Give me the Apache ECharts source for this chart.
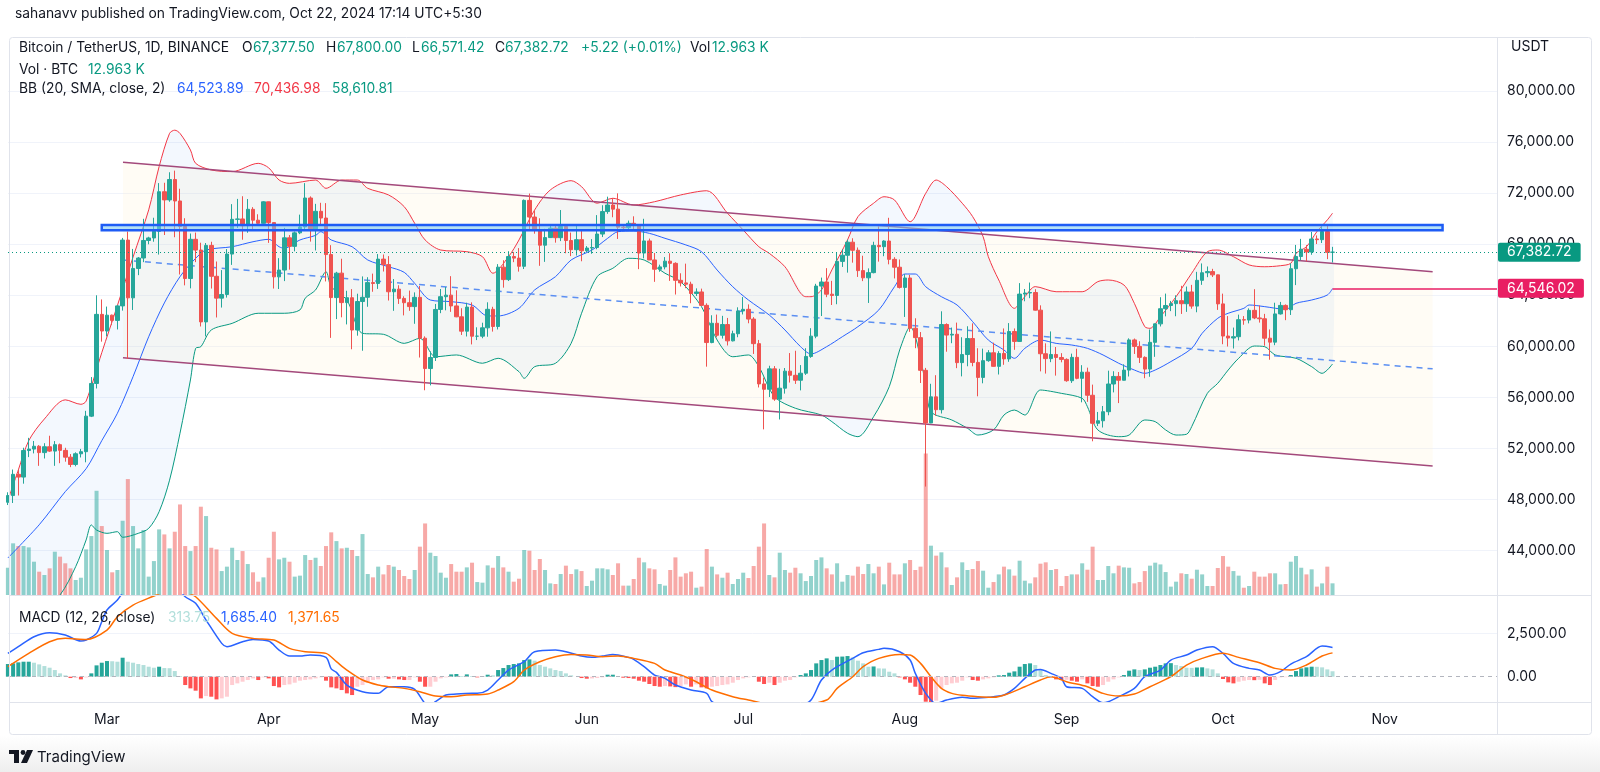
<!DOCTYPE html>
<html><head><meta charset="utf-8">
<script src="https://cdn.jsdelivr.net/npm/echarts@6.0.0/dist/echarts.min.js"></script>
<style>html,body{margin:0;padding:0;background:#fff}#chart{width:1600px;height:772px}</style>
</head><body><div id="chart"></div>
<script>
// ---------- data (day index: 0 = 2024-02-12, -1 = 2024-02-11) ----------
const firstDay = -1;
const monthTicks = [18, 49, 79, 110, 140, 171, 202, 232, 263];
const monthNames = ['Mar', 'Apr', 'May', 'Jun', 'Jul', 'Aug', 'Sep', 'Oct', 'Nov'];
const priceTicks = [44000, 48000, 52000, 56000, 60000, 64000, 68000, 72000, 76000, 80000];
const macdTicks = [0, 2500];
const macdGridTicks = [2500];

// [open, high, low, close]
const candles = [
[47769,48550,47550,48293],[48293,50334,47710,49958],[49958,50368,48300,49743],[49743,52043,49225,51826],[51826,52820,51310,51939],[51939,52574,51600,52160],[52160,52250,50625,51663],
[51663,52400,51200,52122],[52122,52985,51715,51780],[51780,52567,50625,52284],[52284,52372,50831,51839],[51839,52040,50950,51304],[51304,51548,50521,50731],[50731,51684,50585,51571],
[51571,51950,51280,51733],[51733,54938,50901,54522],[54522,57588,54450,57085],[57085,64000,56690,62504],[62504,63676,60364,61198],[61198,63115,60777,62440],[62440,62488,61660,62029],
[62029,63230,61321,63168],[63168,68500,62800,68330],[68330,69000,59005,63801],[63801,67637,62849,66106],[66106,67000,65580,66925],[66925,69999,66600,68300],[68300,68590,68000,68498],
[68498,70083,68200,69019],[69019,72800,67194,72123],[72123,72825,68728,71481],[71481,73650,71334,73083],[73083,73777,68555,71397],[71397,72357,65630,69403],[69403,70044,64780,65315],
[65315,68845,64545,68391],[68391,68918,66601,67548],[67548,68124,61555,61913],[61913,68100,60775,67913],[67913,68199,64529,65491],[65491,66650,62260,63778],[63778,65976,63038,64062],
[64062,67624,63820,67234],[67234,71150,66385,69958],[69958,71561,69280,69987],[69987,71769,68360,69455],[69455,71552,68904,70744],[70744,70913,69076,69892],[69892,70355,69601,69645],
[69645,71377,69624,71333],[71333,71342,68111,69702],[69702,69708,64530,65446],[65446,66914,64494,65980],[65980,69291,65113,68508],[68508,68725,66011,67838],[67838,69000,67447,68896],
[68896,70327,68796,69362],[69362,72797,69041,71631],[71631,71758,68210,69139],[69139,71172,67518,70587],[70587,71256,69571,70060],[70060,71228,65086,67195],[67195,67931,60660,63821],
[63821,65840,62134,65738],[65738,66867,62274,63426],[63426,64355,61716,63811],[63811,64486,59768,61276],[61276,64125,60833,63512],[63512,65481,59651,63843],[63843,65419,63100,64994],
[64994,65700,64277,64927],[64927,67233,64500,66837],[66837,67199,65864,66407],[66407,67075,63589,64277],[64277,65275,62783,64482],[64482,64789,63322,63756],[63756,63923,62424,63419],
[63419,64370,62781,63113],[63113,64228,61765,63841],[63841,64734,59120,60637],[60637,60780,56552,58254],[58254,59602,56937,59123],[59123,63320,58848,62889],[62889,64494,62599,63892],
[63892,64646,62822,64012],[64012,65500,62700,63166],[63166,64390,62281,62313],[62313,62985,60888,61187],[61187,63420,60769,63075],[63075,63446,60148,60792],[60792,61490,60488,60793],
[60793,61850,60632,61448],[61448,63450,60750,62901],[62901,63099,61152,61552],[61552,66444,61319,66207],[66207,66750,64600,65231],[65231,67459,65119,67039],[67039,67400,66600,66916],
[66916,67700,65857,66275],[66275,71515,66060,71446],[71446,71979,69162,70137],[70137,70632,68833,69122],[69122,70041,66312,67929],[67929,69212,66622,68526],[68526,69563,68500,69266],
[69266,69562,68128,68518],[68518,70687,68251,69394],[69394,69560,67300,68296],[68296,68920,67075,67579],[67579,69500,67118,68364],[68364,69042,66670,67491],[67491,67860,67387,67706],
[67706,68409,67257,67751],[67751,70288,67612,68804],[68804,71063,68567,70567],[70567,71735,70390,71082],[71082,71625,70119,70757],[70757,71997,68420,69342],[69342,69583,69182,69305],
[69305,69858,69126,69648],[69648,70195,69160,69540],[69540,69590,66051,67314],[67314,70000,66900,68263],[68263,68449,66764,66773],[66773,67315,65056,66043],[66043,66403,65848,66228],
[66228,66998,66034,66676],[66676,67299,65130,66505],[66505,66587,64060,65175],[65175,65727,64693,64974],[64974,66482,64560,64869],[64869,65066,63379,64143],[64143,64546,63943,64262],
[64262,64523,63178,63210],[63210,63369,58402,60293],[60293,62435,60240,61806],[61806,62487,60712,60864],[60864,62389,60606,61706],[61706,62225,60063,60427],[60427,61224,60383,60986],
[60986,63058,60712,62772],[62772,63861,62497,62900],[62900,63288,61806,62135],[62135,62285,59400,60208],[60208,60498,56771,57050],[57050,57546,53485,56628],[56628,58475,56018,58230],
[58230,58449,55724,55857],[55857,58236,54260,56714],[56714,58296,56289,58050],[58050,59470,57157,57725],[57725,59650,57050,57339],[57339,58526,56542,57889],[57889,59850,57756,59204],
[59204,61420,59096,60797],[60797,64900,60632,64724],[64724,65388,62373,65043],[65043,66128,63854,64087],[64087,65133,63238,63987],[63987,67386,63300,66660],[66660,67598,66222,67139],
[67139,68366,65777,68165],[68165,68474,66559,67532],[67532,67750,65441,65936],[65936,67102,65111,65372],[65372,66112,63400,65777],[65777,68200,65722,67912],[67912,69399,66640,67813],
[67813,68318,67066,68255],[68255,70079,66428,66819],[66819,66987,65323,66201],[66201,66810,64532,64619],[64619,65659,62302,65357],[65357,65596,61130,61415],[61415,62198,59850,60680],
[60680,61117,57122,58116],[58116,58305,49000,53991],[53991,57059,53973,56034],[56034,57733,54558,55027],[55027,62745,54730,61710],[61710,61800,59575,60880],[60880,61470,60242,60945],
[60945,61858,58286,58719],[58719,60711,57642,59354],[59354,61572,58433,60609],[60609,61800,58433,58737],[58737,59849,56078,57560],[57560,59817,57098,58874],[58874,59700,58785,59491],
[59491,60284,58408,58427],[58427,59617,57787,59438],[59438,61400,58548,59013],[59013,61820,58783,61157],[61157,61400,59724,60381],[60381,64955,60345,64094],[64094,64494,63531,64178],
[64178,65000,63773,64220],[64220,64481,62800,62834],[62834,63212,58034,59416],[59416,60234,57860,59034],[59034,61166,58755,59359],[59359,59944,57701,59123],[59123,59462,58745,58973],
[58973,59054,57218,57301],[57301,59425,57128,59132],[59132,59809,57415,57487],[57487,58520,55606,57970],[57970,58327,55643,56160],[56160,56995,52550,53962],[53962,54850,53745,54160],
[54160,55318,53630,54869],[54869,58088,54591,57042],[57042,58044,56386,57635],[57635,57981,55546,57338],[57338,58588,57324,58132],[58132,60625,57632,60499],[60499,60610,59400,59993],
[59993,60395,58692,59132],[59132,59210,57493,58213],[58213,61320,57610,60309],[60309,61786,59174,61759],[61759,63850,61555,62947],[62947,64133,62350,63201],[63201,63559,62758,63348],
[63348,64000,62357,63578],[63578,64745,62538,63339],[63339,64688,62700,64262],[64262,64817,62947,63152],[63152,65839,62670,65173],[65173,66498,64819,65769],[65769,66260,65422,65858],
[65858,66076,65432,65602],[65602,65618,62856,63327],[63327,64130,60164,60805],[60805,62370,59981,60649],[60649,61469,59828,60752],[60752,62484,60459,62086],[62086,62370,61689,62058],
[62058,62975,61798,62819],[62819,64478,62128,62224],[62224,63200,61860,62160],[62160,62543,60046,60636],[60636,61321,58946,60326],[60326,63417,60087,62540],[62540,63480,62487,63206],
[63206,63285,62050,62870],[62870,66500,62457,66084],[66084,67950,64800,67041],[67041,68424,66750,67612],[67612,67939,66666,67399],[67399,68969,67177,68418],[68418,68694,68020,68362],
[68362,69400,68100,69002],[69002,69500,66835,67367],[67377.5,67800,66571.42,67382.72]
];

// volume, thousands of BTC
const volumes = [30.3,57.4,54.4,54.4,52.9,37.0,25.9,22.2,29.6,48.1,42.6,35.2,29.6,16.7,19.2,50.7,65.5,115.8,76.6,50.0,25.2,27.8,82.5,128.8,76.6,51.8,72.2,20.4,37.7,72.9,67.3,51.8,70.3,100.6,54.4,48.8,54.4,98.1,87.7,52.5,50.7,26.6,31.5,52.5,38.9,48.8,34.4,25.2,14.8,19.6,41.4,70.3,39.6,41.4,37.0,20.4,21.5,44.4,38.9,41.4,32.2,54.4,69.6,59.9,
51.8,52.5,50.0,43.3,67.7,23.3,19.6,31.5,22.9,33.3,31.5,27.8,21.1,17.8,27.8,53.7,79.5,47.0,43.3,24.8,19.2,34.4,25.9,25.9,30.7,35.9,14.4,13.7,32.9,30.3,43.3,30.7,25.9,14.8,18.1,50.0,49.2,27.8,40.0,27.8,12.9,12.2,23.3,32.6,23.3,28.5,26.6,10.0,15.9,29.6,29.6,28.5,22.2,35.2,10.4,10.4,17.8,41.4,36.3,29.6,28.5,12.2,10.4,
27.8,41.8,20.4,24.1,25.9,8.1,9.3,51.1,31.5,22.9,19.2,24.8,12.2,17.8,24.8,18.9,32.2,53.7,79.5,22.2,19.6,47.0,27.8,24.8,30.3,24.1,15.5,21.1,38.9,41.8,29.6,22.9,35.2,14.8,22.2,21.5,31.5,23.3,34.4,24.1,31.5,11.8,35.9,22.9,22.9,35.2,38.9,27.8,31.5,157.3,54.8,43.7,47.4,30.7,11.1,19.6,36.3,27.8,28.9,37.7,27.0,8.1,14.4,
22.9,31.5,28.5,21.5,38.1,15.9,12.9,19.6,34.8,36.3,27.8,28.9,10.0,21.1,22.9,22.9,35.2,28.1,53.7,16.7,16.7,32.2,24.1,32.6,30.7,30.3,12.9,14.4,26.6,32.6,35.9,34.0,25.5,9.3,14.8,24.1,23.3,18.1,28.1,22.9,10.0,10.0,30.0,43.3,31.5,26.6,21.5,8.1,10.0,25.9,20.4,20.4,24.1,24.1,11.8,12.2,37.0,43.3,30.3,22.9,28.5,9.3,12.9,31.5,12.963];

// MACD histogram per day
const macdHist = [730,768,826,864,864,806,710,614,518,384,192,77,-77,-77,-154,-40,192,653,806,902,890,864,1094,864,806,730,672,576,518,576,499,490,326,38,-480,-672,-806,-1248,-1114,-1152,-1306,-1248,-1152,-480,-384,-288,-192,-96,-192,-38,-96,-538,-614,-480,-442,-346,-230,-192,-154,-96,-38,-230,-614,-672,
-768,-960,-1056,-576,-480,-346,-192,-154,-38,-115,-115,-154,-192,-192,-38,-288,-576,-576,-288,-96,-38,134,154,38,134,38,-38,19,115,77,384,499,672,730,768,960,998,922,672,576,480,384,326,192,77,0,-77,-115,-100,-77,-38,115,115,38,-58,-77,-115,-230,-288,-422,-538,-576,-538,
-560,-600,-538,-442,-576,-442,-614,-672,-576,-538,-480,-442,-346,-192,-96,-38,-20,-288,-422,-346,-480,-346,-230,-192,-38,96,192,384,768,960,1056,960,1152,1160,1190,1114,922,768,576,590,480,470,288,192,-38,-154,-346,-576,-1056,-1440,-1498,-1382,-672,-480,-384,-346,-230,-38,-192,-230,-154,-96,-38,
77,96,230,307,576,730,768,672,384,96,-19,-154,-192,-180,-230,-288,-154,-384,-538,-576,-480,-288,-154,-38,96,346,422,384,422,518,576,672,768,780,672,614,518,510,530,540,480,422,192,-134,-326,-384,-288,-230,-192,-200,-180,-384,-480,-192,-38,-30,96,326,480,538,576,570,538,422,313.75];

// Bollinger Bands (20, SMA, close, 2): [day, price]
const bbUpper = [[-1,47900],[1,50300],[3,52600],[6,54300],[10,55800],[13,55450],[14,55700],[17,59500],[20,63200],[23,67000],[26,70700],[28,74100],[30,76700],[31,76950],[32,76700],[34,75400],[35,74350],[38,73830],[42,73700],[47,74350],[49,74000],[51,73040],[53,72780],[58,73040],[60,72390],[63,73040],[66,73040],[68,72390],[72,71870],[75,70950],[77,69650],[79,68340],[82,67550],[87,67420],[90,67030],[92,65730],[95,67030],[97,68340],[100,70690],[103,72260],[107,72990],[109,72520],[112,71220],[115,71610],[119,71080],[123,71340],[128,71870],[133,72200],[137,70430],[140,69120],[143,67810],[145,67290],[148,66240],[152,63890],[153,63890],[155,64420],[157,65990],[160,68340],[162,70170],[165,71220],[167,71730],[169,71480],[172,69770],[175,72000],[177,73040],[179,72520],[182,71220],[184,70170],[186,68600],[187,67030],[189,65200],[192,62980],[194,63890],[196,64680],[200,64280],[205,64280],[208,65070],[210,65200],[213,64810],[215,63370],[217,61540],[218,61410],[220,62320],[223,63890],[226,65730],[229,67420],[231,67550],[234,67030],[237,66380],[240,66240],[243,66320],[245,66510],[246,67290],[248,67810],[250,68990],[252,69910],[253,70436.98]];
const bbBasis = [[-1,43400],[5,46000],[10,48600],[14,50400],[17,52600],[20,54750],[23,57620],[26,60750],[29,63400],[32,65460],[35,66900],[37,67550],[42,67810],[46,68200],[49,68390],[51,67810],[52,67690],[55,68340],[58,68700],[59,68990],[61,68340],[65,67810],[68,66770],[72,66240],[75,65800],[77,64940],[80,63630],[84,63500],[88,63240],[91,62380],[93,62380],[97,62980],[100,64420],[104,65460],[107,66770],[111,67550],[114,68470],[116,68990],[119,69040],[122,68860],[125,68470],[129,67950],[132,67420],[135,65980],[138,64670],[141,63630],[145,62450],[148,61280],[151,59970],[153,59400],[156,59970],[159,60750],[162,61540],[166,62850],[169,64670],[171,65670],[173,65670],[175,64670],[178,63890],[181,63240],[184,61930],[187,60490],[190,59710],[192,59060],[194,59840],[197,60490],[200,60230],[203,60100],[206,59840],[209,59320],[212,58670],[215,58140],[217,57880],[219,58140],[222,58800],[226,59840],[228,61020],[231,62200],[233,62590],[236,62980],[237,63240],[240,63110],[244,62900],[246,63370],[249,63630],[252,64020],[253,64523.89]];
const bbLower = [[-1,36500],[4,38600],[9,40500],[12,42720],[14,44810],[15,45990],[16,45590],[18,45330],[20,45460],[21,45020],[24,45330],[26,45720],[28,47030],[30,49500],[32,53180],[34,57360],[35,59840],[36,59970],[38,61280],[42,61800],[47,62590],[52,62590],[55,62850],[56,63770],[58,64420],[60,65850],[61,64670],[64,63630],[67,61020],[71,60940],[75,60230],[78,60630],[81,59180],[85,59320],[90,58670],[93,59060],[97,58010],[98,57490],[100,58400],[104,58670],[107,60230],[109,62590],[112,65460],[115,66120],[118,66900],[121,66770],[125,65730],[128,65070],[132,63110],[135,60490],[138,59180],[141,59320],[143,58400],[146,56050],[150,55140],[155,54610],[157,54090],[160,53180],[162,52910],[165,54480],[168,56830],[170,59710],[172,61540],[175,57100],[176,54870],[180,54220],[183,53570],[185,53040],[188,53440],[190,54610],[192,55000],[194,54610],[197,56570],[201,56310],[205,55920],[206,55260],[208,53440],[212,52910],[214,53040],[217,54220],[219,54090],[221,53440],[223,53040],[225,53100],[226,53700],[229,56310],[231,57100],[233,58140],[235,59060],[238,60020],[240,59970],[242,59320],[246,59060],[249,58400],[251,57880],[253,58610.81]];

// MACD (12, 26, close) lines: [day, value]
const macdLine = [[-1,1344],[1,1728],[4,2304],[7,2534],[10,2400],[13,2054],[14,2112],[16,2496],[17,3168],[18,3840],[20,4416],[22,5200],[25,5600],[28,5900],[31,5300],[33,4608],[35,4224],[37,3264],[40,1920],[41,1728],[44,2016],[46,2150],[49,2054],[51,1536],[53,1190],[55,1190],[57,1248],[60,1114],[61,450],[62,250],[64,-480],[67,-864],[70,-960],[72,-576],[75,-576],[77,-730],[79,-1536],[80,-1600],[81,-1440],[83,-1056],[85,-998],[88,-960],[89,-960],[91,-768],[93,-192],[95,384],[98,864],[100,1440],[104,1536],[106,1440],[109,1190],[111,1114],[113,1190],[115,1286],[118,1114],[119,998],[121,576],[123,96],[125,-96],[127,-480],[130,-768],[133,-960],[134,-1440],[137,-1800],[141,-2200],[145,-2300],[148,-2000],[151,-1700],[153,-1344],[155,-192],[157,384],[161,1056],[163,1382],[166,1574],[167,1632],[170,1440],[172,960],[173,192],[175,-960],[177,-1550],[179,-1344],[182,-1190],[184,-1248],[187,-1190],[188,-1152],[190,-1056],[192,-672],[194,-96],[196,384],[197,422],[199,192],[201,-96],[202,-576],[205,-672],[207,-1152],[209,-1500],[210,-1440],[212,-1152],[215,-672],[217,0],[220,384],[222,960],[225,1248],[227,1536],[230,1728],[232,1344],[234,768],[237,480],[239,384],[241,96],[243,288],[245,730],[248,1152],[251,1766],[253,1685.40]];
const signalLine = [[-1,576],[3,1344],[7,2016],[10,2208],[14,2150],[18,2688],[20,3456],[23,4128],[27,4646],[29,4900],[31,5050],[33,4900],[35,4608],[39,3360],[42,2496],[46,2208],[50,2112],[53,1632],[56,1440],[60,1344],[62,864],[64,384],[67,-192],[70,-480],[72,-576],[75,-672],[78,-864],[81,-1114],[84,-1152],[87,-1056],[91,-998],[93,-768],[96,-288],[98,384],[101,864],[104,1152],[107,1286],[110,1248],[113,1152],[116,1190],[119,1056],[123,768],[125,384],[128,96],[131,-288],[134,-768],[138,-1152],[141,-1344],[145,-1600],[150,-1650],[156,-1344],[158,-672],[161,0],[163,576],[166,1056],[170,1286],[172,1248],[174,768],[176,0],[178,-672],[180,-960],[182,-1075],[185,-1152],[188,-1190],[191,-960],[194,-576],[197,-192],[199,0],[202,-288],[206,-576],[209,-960],[212,-1114],[215,-998],[218,-576],[222,0],[225,672],[228,1056],[232,1344],[235,1114],[239,806],[242,480],[245,384],[248,672],[251,1190],[253,1371.65]];

// drawings: [day, price]
const channelUpper = [[21.07,74431],[272.2,65851]];
const channelLower = [[21.07,59106],[272.2,50613]];
const channelMid = [[21.07,66768],[272.2,58232]];
const resistanceZone = [[17,69520],[274.1,69100]];
const lastClose = 67382.72;
const basisMark = 64546.02;
const lastDay = 253;

// ---------- layout ----------
const xMin = -0.98, xMax = 284.54;
const priceMin = 40494, priceMax = 84180;
const volMax = 300;
const macdMin = -1457, macdMax = 4706;
const FONT = 'Inter, "Noto Sans", sans-serif';
const UP = '#26a69a', DOWN = '#ef5350';

const fmt2 = v => Number(v).toLocaleString('en-US', {minimumFractionDigits: 2, maximumFractionDigits: 2});

const candleData = candles.map((c, i) => [firstDay + i, c[0], c[3], c[2], c[1]]);
const volData = volumes.map((v, i) => ({
  value: [firstDay + i, v],
  itemStyle: {color: candles[i][3] >= candles[i][0] ? 'rgba(38,166,154,0.5)' : 'rgba(239,83,80,0.5)'}
}));
const histData = macdHist.map((v, i) => {
  const p = i > 0 ? macdHist[i - 1] : v;
  let c;
  if (v >= 0) c = v >= p ? '#26a69a' : '#b2dfdb';
  else c = v < p ? '#ff5252' : '#ffcdd2';
  return {value: [firstDay + i, v], itemStyle: {color: c}};
});

function polygonSeries(pointsFn, fill, z, smooth) {
  return {
    type: 'custom', xAxisIndex: 0, yAxisIndex: 0, z: z, clip: true, silent: true,
    data: [[0, 0]],
    renderItem: (params, api) => {
      const pts = pointsFn().map(p => api.coord(p));
      return {type: 'polygon', shape: {points: pts, smooth: smooth || 0}, style: {fill: fill, stroke: null}};
    }
  };
}

const lineS = (data, color, width, z, opts) => Object.assign({
  type: 'line', xAxisIndex: 0, yAxisIndex: 0, data: data, showSymbol: false, symbol: 'none',
  smooth: 0.3, silent: true, z: z, lineStyle: {color: color, width: width}
}, opts || {});

const tagLabel = (text, bg) => ({
  show: true, position: 'end', formatter: text, backgroundColor: bg, color: '#ffffff',
  fontSize: 14, fontFamily: FONT, padding: [3, 9, 2, 9], distance: 1, borderRadius: 2
});

const option = {
  animation: false,
  backgroundColor: '#ffffff',
  grid: [
    {left: 8, right: 103, top: 38, height: 557},
    {left: 8, right: 103, top: 325, height: 270},
    {left: 8, right: 103, top: 595, height: 107}
  ],
  xAxis: [0, 1, 2].map(i => ({
    type: 'value', gridIndex: i, min: xMin, max: xMax,
    axisLine: {show: false}, axisTick: {show: false}, splitLine: {show: false},
    axisLabel: i === 2 ? {
      customValues: monthTicks,
      formatter: v => monthNames[monthTicks.indexOf(Math.round(v))] || '',
      color: '#131722', fontSize: 14, fontFamily: FONT, margin: 11
    } : {show: false}
  })),
  yAxis: [
    {type: 'value', gridIndex: 0, position: 'right', min: priceMin, max: priceMax,
     axisLine: {show: false}, axisTick: {show: false, customValues: priceTicks},
     axisLabel: {customValues: priceTicks, formatter: fmt2, color: '#131722', fontSize: 14, fontFamily: FONT, margin: 10},
     splitLine: {show: true, lineStyle: {color: '#f0f3fa', width: 1}}},
    {type: 'value', gridIndex: 1, min: 0, max: volMax, show: false},
    {type: 'value', gridIndex: 2, position: 'right', min: macdMin, max: macdMax,
     axisLine: {show: false}, axisTick: {show: false, customValues: macdGridTicks},
     axisLabel: {customValues: macdTicks, formatter: fmt2, color: '#131722', fontSize: 14, fontFamily: FONT, margin: 10},
     splitLine: {show: true, lineStyle: {color: '#f0f3fa', width: 1}}}
  ],
  series: [
    polygonSeries(() => [channelUpper[0], channelUpper[1], channelLower[1], channelLower[0]], 'rgba(255,240,205,0.2)', 0, 0),
    polygonSeries(() => bbUpper.concat(bbLower.slice().reverse()), 'rgba(33,130,243,0.055)', 1, 0.3),
    {type: 'bar', xAxisIndex: 1, yAxisIndex: 1, data: volData, barWidth: 4, z: 2, silent: true},
    lineS(bbUpper, '#f23645', 1, 3),
    lineS(bbLower, '#089981', 1, 3),
    lineS(bbBasis, '#2962ff', 1, 3),
    lineS(channelUpper, '#a3497b', 1.5, 3, {smooth: false}),
    lineS(channelLower, '#a3497b', 1.5, 3, {smooth: false}),
    lineS(channelMid, '#5b8ff2', 1.5, 3, {smooth: false, lineStyle: {color: '#5b8ff2', width: 1.5, type: [6, 5]}}),
    {type: 'candlestick', xAxisIndex: 0, yAxisIndex: 0, data: candleData, encode: {x: 0, y: [1, 2, 3, 4]},
     barWidth: 4, z: 4, silent: true,
     itemStyle: {color: UP, color0: DOWN, borderColor: UP, borderColor0: DOWN, borderWidth: 1},
     markLine: {symbol: ['none', 'none'], silent: true, animation: false,
       data: [
         {yAxis: lastClose, lineStyle: {color: '#089981', type: [1, 3], width: 1}, label: tagLabel(fmt2(lastClose), '#089981')},
         [{coord: [lastDay, basisMark], lineStyle: {color: '#e91e63', type: 'solid', width: 1.5}, label: tagLabel(fmt2(basisMark), '#e91e63')},
          {coord: [xMax, basisMark]}]
       ]}
    },
    {type: 'custom', xAxisIndex: 0, yAxisIndex: 0, z: 5, clip: true, silent: true, data: [[0, 0]],
     renderItem: (params, api) => {
       const a = api.coord(resistanceZone[0]), b = api.coord(resistanceZone[1]);
       return {type: 'rect', shape: {x: a[0], y: a[1], width: b[0] - a[0], height: b[1] - a[1]},
               style: {fill: 'rgba(120,200,240,0.55)', stroke: '#1e5cf5', lineWidth: 2.5}};
     }},
    {type: 'bar', xAxisIndex: 2, yAxisIndex: 2, data: histData, barWidth: 4, z: 2, silent: true,
     markLine: {symbol: ['none', 'none'], silent: true, label: {show: false},
       data: [{yAxis: 0}], lineStyle: {color: '#b2b5be', type: [4, 4], width: 1}}},
    {type: 'line', xAxisIndex: 2, yAxisIndex: 2, data: macdLine, showSymbol: false, smooth: 0.3, z: 3, silent: true,
     lineStyle: {color: '#2962ff', width: 1.5}},
    {type: 'line', xAxisIndex: 2, yAxisIndex: 2, data: signalLine, showSymbol: false, smooth: 0.3, z: 3, silent: true,
     lineStyle: {color: '#ff6d00', width: 1.5}}
  ],
  graphic: []
};

// ---------- frame and legend text ----------
const g = option.graphic;
const txt = (x, y, text, fill, size, weight) => g.push({
  type: 'text', x: x, y: y, z: 100, silent: true,
  style: {text: text, fill: fill, font: (weight || 'normal') + ' ' + (size || 13) + 'px ' + FONT, verticalAlign: 'middle', align: 'left'}
});
const ln = (x1, y1, x2, y2) => g.push({type: 'line', z: 50, silent: true, shape: {x1: x1, y1: y1, x2: x2, y2: y2}, style: {stroke: '#e0e3eb', lineWidth: 1}});

g.push({type: 'rect', z: -1, silent: true, shape: {x: 0, y: 736, width: 1600, height: 36},
  style: {fill: new echarts.graphic.LinearGradient(0, 0, 0, 1, [{offset: 0, color: '#ffffff'}, {offset: 1, color: '#eeeeee'}])}});
g.push({type: 'rect', z: 50, silent: true, shape: {x: 9.5, y: 37.5, width: 1582, height: 697, r: 3}, style: {fill: 'none', stroke: '#e0e3eb', lineWidth: 1}});
ln(1497.5, 37.5, 1497.5, 734.5);
ln(9.5, 595.5, 1591.5, 595.5);
ln(9.5, 702.5, 1591.5, 702.5);

const HF = 13.8;
txt(15, 14, 'sahanavv published on TradingView.com, Oct 22, 2024 17:14 UTC+5:30', '#131722', HF);
const TEAL = '#089981';
txt(19, 48, 'Bitcoin / TetherUS, 1D, BINANCE', '#131722', HF);
txt(242, 48, 'O', '#131722', HF); txt(253, 48, '67,377.50', TEAL, HF);
txt(326, 48, 'H', '#131722', HF); txt(337, 48, '67,800.00', TEAL, HF);
txt(412, 48, 'L', '#131722', HF); txt(421, 48, '66,571.42', TEAL, HF);
txt(495, 48, 'C', '#131722', HF); txt(505, 48, '67,382.72', TEAL, HF);
txt(581, 48, '+5.22 (+0.01%)', TEAL, HF);
txt(690, 48, 'Vol', '#131722', HF); txt(712, 48, '12.963 K', TEAL, HF);
txt(19, 70, 'Vol · BTC', '#131722', HF); txt(88, 70, '12.963 K', TEAL, HF);
txt(19, 89, 'BB (20, SMA, close, 2)', '#131722', HF);
txt(177, 89, '64,523.89', '#2962ff', HF); txt(254, 89, '70,436.98', '#f23645', HF); txt(332, 89, '58,610.81', TEAL, HF);
txt(19, 618, 'MACD (12, 26, close)', '#131722', HF);
txt(168, 618, '313.75', '#b2dfdb', HF); txt(221, 618, '1,685.40', '#2962ff', HF); txt(288, 618, '1,371.65', '#ff6d00', HF);
txt(1511, 47, 'USDT', '#131722', 14);

// TradingView logo
g.push({type: 'rect', z: 100, silent: true, shape: {x: 9, y: 750, width: 10, height: 4}, style: {fill: '#131722'}});
g.push({type: 'rect', z: 100, silent: true, shape: {x: 14, y: 750, width: 5, height: 13}, style: {fill: '#131722'}});
g.push({type: 'circle', z: 100, silent: true, shape: {cx: 23, cy: 752.5, r: 2.4}, style: {fill: '#131722'}});
g.push({type: 'polygon', z: 100, silent: true, shape: {points: [[27, 750], [33, 750], [27, 763], [21, 763]]}, style: {fill: '#131722'}});
txt(37, 757, 'TradingView', '#131722', 15);

const chart = echarts.init(document.getElementById('chart'), null, {renderer: 'canvas'});
chart.setOption(option);
</script>
</body></html>
